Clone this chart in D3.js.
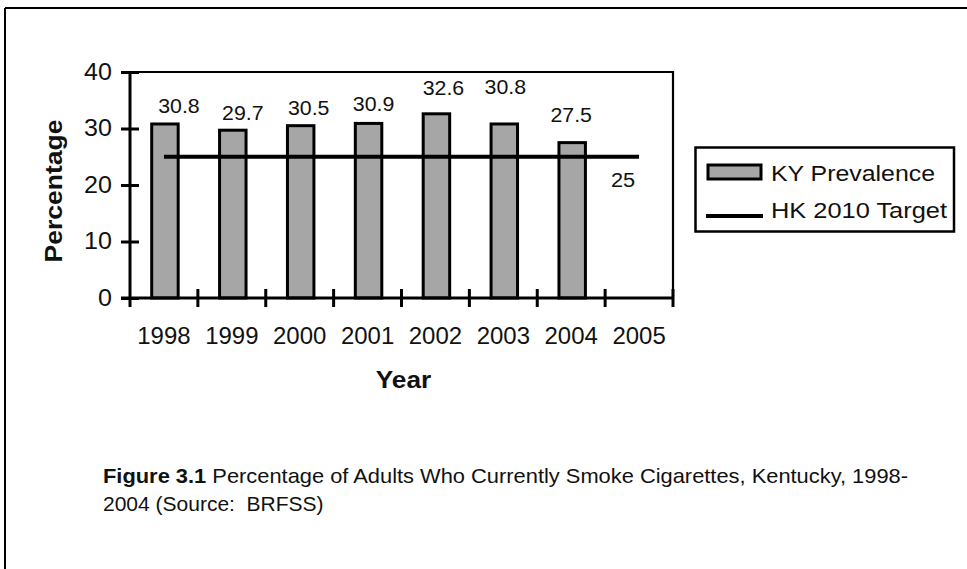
<!DOCTYPE html>
<html>
<head>
<meta charset="utf-8">
<script src="https://cdn.jsdelivr.net/npm/d3@7"></script>
<style>
  html, body { margin: 0; padding: 0; background: #fff; }
  svg { display: block; font-family: "Liberation Sans", Arial, sans-serif; }
  text { fill: #111; }
</style>
</head>
<body>
<svg id="chart" width="967" height="569"></svg>
<script>
// Data
const years = ["1998", "1999", "2000", "2001", "2002", "2003", "2004", "2005"];
const prevalence = [30.8, 29.7, 30.5, 30.9, 32.6, 30.8, 27.5];
const targetValue = 25;
const yTickValues = [0, 10, 20, 30, 40];
const seriesNames = ["KY Prevalence", "HK 2010 Target"];
const captionLead = "Figure 3.1";
const captionRest = " Percentage of Adults Who Currently Smoke Cigarettes, Kentucky, 1998-";
const captionLine2 = "2004 (Source:  BRFSS)";

// Layout
const plot = { left: 130, right: 673, top: 72, bottom: 298 };
const barFill = "#a6a6a6";
// per-label nudges [dx, dy] from the bar centre / bar top
const labelNudge = [[15, -11], [11, -10], [9, -11], [6, -12], [8, -19], [2, -30], [0, -21]];

const svg = d3.select("#chart");

// widen lettering horizontally by factor k
function widen(sel, k) {
  sel.each(function () {
    const w = this.getComputedTextLength();
    d3.select(this).attr("textLength", w * k).attr("lengthAdjust", "spacingAndGlyphs");
  });
}

// Page frame (top and left rules)
svg.append("line").attr("x1", 5).attr("x2", 967).attr("y1", 8).attr("y2", 8)
  .attr("stroke", "#000").attr("stroke-width", 2);
svg.append("line").attr("x1", 5).attr("x2", 5).attr("y1", 8).attr("y2", 569)
  .attr("stroke", "#000").attr("stroke-width", 2);

const x = d3.scaleBand().domain(years).range([plot.left, plot.right])
  .paddingInner(0.61).paddingOuter(0.305);
const y = d3.scaleLinear().domain([0, 40]).range([plot.bottom, plot.top]);
const cx = d => x(d) + x.bandwidth() / 2;

// Plot area frame: top and right edges
svg.append("path")
  .attr("d", `M${plot.left},${plot.top}H${plot.right}V${plot.bottom}`)
  .attr("fill", "none").attr("stroke", "#000").attr("stroke-width", 2.2);

// Bars
svg.append("g").selectAll("rect")
  .data(prevalence)
  .join("rect")
  .attr("x", (d, i) => x(years[i]) + 1)
  .attr("y", d => y(d))
  .attr("width", x.bandwidth())
  .attr("height", d => y(0) - y(d))
  .attr("fill", barFill)
  .attr("stroke", "#000")
  .attr("stroke-width", 3);

// Target line
svg.append("line")
  .attr("x1", cx(years[0])).attr("x2", cx(years[years.length - 1]))
  .attr("y1", y(targetValue)).attr("y2", y(targetValue))
  .attr("stroke", "#000").attr("stroke-width", 4);

// Y axis with crossing ticks
const yAxis = svg.append("g")
  .attr("transform", `translate(${plot.left},0)`)
  .call(d3.axisLeft(y).tickValues(yTickValues).tickSize(9).tickPadding(9));
yAxis.select(".domain").remove();
yAxis.selectAll(".tick line").attr("x1", 9).attr("stroke", "#000").attr("stroke-width", 3);
yAxis.selectAll(".tick text").attr("font-size", 23).attr("fill", "#111")
  .attr("font-family", "Liberation Sans, Arial, sans-serif");
svg.append("line").attr("x1", plot.left).attr("x2", plot.left)
  .attr("y1", plot.top).attr("y2", plot.bottom + 9)
  .attr("stroke", "#000").attr("stroke-width", 3);

// X axis: year labels at band centres, ticks on band boundaries
const xAxis = svg.append("g")
  .attr("transform", `translate(0,${plot.bottom})`)
  .call(d3.axisBottom(x).tickSize(0).tickPadding(29));
xAxis.select(".domain").remove();
xAxis.selectAll(".tick text").attr("font-size", 23.5).attr("fill", "#111")
  .attr("font-family", "Liberation Sans, Arial, sans-serif");
svg.append("line").attr("x1", plot.left - 9).attr("x2", plot.right)
  .attr("y1", plot.bottom).attr("y2", plot.bottom)
  .attr("stroke", "#000").attr("stroke-width", 3);
const bounds = years.map(d => x(d) - x.step() * x.paddingInner() / 2).concat([plot.right]);
svg.append("g").selectAll("line")
  .data(bounds.slice(1))
  .join("line")
  .attr("x1", d => d).attr("x2", d => d)
  .attr("y1", plot.bottom - 9).attr("y2", plot.bottom + 9)
  .attr("stroke", "#000").attr("stroke-width", 3);

// Value labels
const valueLabels = svg.append("g").selectAll("text")
  .data(prevalence)
  .join("text")
  .attr("x", (d, i) => cx(years[i]) + labelNudge[i][0])
  .attr("y", (d, i) => y(d) + labelNudge[i][1])
  .attr("text-anchor", "middle")
  .attr("font-size", 20.5)
  .text(d => d.toFixed(1));
const targetLabel = svg.append("text")
  .attr("x", cx(years[years.length - 1]) - 16)
  .attr("y", y(targetValue) + 30)
  .attr("text-anchor", "middle")
  .attr("font-size", 20.5)
  .text(targetValue);

// Axis titles
const yTitle = svg.append("text")
  .attr("transform", `translate(62,${(plot.top + plot.bottom) / 2 + 6}) rotate(-90)`)
  .attr("text-anchor", "middle")
  .attr("font-size", 23).attr("font-weight", "bold")
  .text("Percentage");
const xTitle = svg.append("text")
  .attr("x", (plot.left + plot.right) / 2 + 2)
  .attr("y", 388)
  .attr("text-anchor", "middle")
  .attr("font-size", 23).attr("font-weight", "bold")
  .text("Year");

// Legend
const legend = svg.append("g");
legend.append("rect")
  .attr("x", 695.5).attr("y", 147.5).attr("width", 258.5).attr("height", 84)
  .attr("fill", "#fff").attr("stroke", "#000").attr("stroke-width", 2.5);
legend.append("rect")
  .attr("x", 708).attr("y", 165).attr("width", 53).attr("height", 14)
  .attr("fill", barFill).attr("stroke", "#000").attr("stroke-width", 3);
legend.append("line")
  .attr("x1", 706).attr("x2", 763).attr("y1", 216).attr("y2", 216)
  .attr("stroke", "#000").attr("stroke-width", 4);
const legendText = legend.selectAll("text.lg")
  .data(seriesNames)
  .join("text")
  .attr("class", "lg")
  .attr("x", 771)
  .attr("y", (d, i) => i === 0 ? 181 : 218)
  .attr("font-size", 22)
  .text(d => d);

// Caption
const cap1 = svg.append("text").attr("x", 103).attr("y", 483).attr("font-size", 21);
cap1.append("tspan").attr("font-weight", "bold").text(captionLead);
cap1.append("tspan").attr("style", "white-space:pre").text(captionRest);
cap1.attr("textLength", 805).attr("lengthAdjust", "spacingAndGlyphs");
svg.append("text").attr("x", 103).attr("y", 511).attr("font-size", 21)
  .attr("style", "white-space:pre")
  .text(captionLine2);

// Horizontal stretch of chart lettering
widen(yAxis.selectAll(".tick text"), 1.09);
widen(xAxis.selectAll(".tick text"), 1.02);
widen(valueLabels, 1.04);
widen(targetLabel, 1.06);
widen(xTitle, 1.14);
yTitle.attr("textLength", 143).attr("lengthAdjust", "spacingAndGlyphs");
legendText.attr("textLength", (d, i) => i === 0 ? 164 : 176).attr("lengthAdjust", "spacingAndGlyphs");
</script>
</body>
</html>
